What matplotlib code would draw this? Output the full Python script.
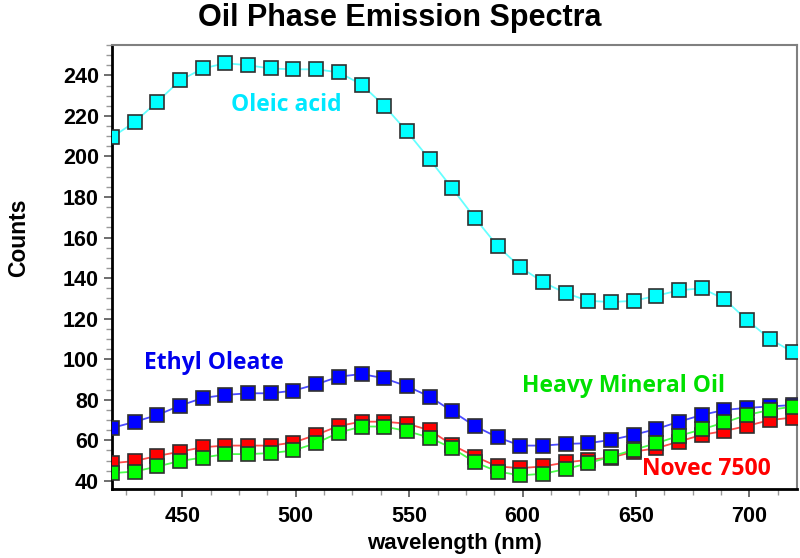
import matplotlib
matplotlib.use("Agg")
import matplotlib.pyplot as plt
from matplotlib.ticker import MultipleLocator

# wavelength samples (nm)
wavelength = [419, 429, 439, 449, 459, 469, 479, 489, 499, 509,
              519, 529, 539, 549, 559, 569, 579, 589, 599, 609,
              619, 629, 639, 649, 659, 669, 679, 689, 699, 709, 719]

oleic_acid = [209.5, 217, 227, 237.5, 243.4, 246, 245, 243.4, 243, 243,
              241.5, 235.5, 225, 212.4, 198.6, 184.3, 169.6, 155.8, 145.4, 138,
              132.6, 128.8, 128.2, 128.8, 131.3, 134, 135, 129.6, 119.3, 110, 103.6]

ethyl_oleate = [66.1, 69.1, 72.5, 77.1, 80.9, 82.4, 83.2, 83.2, 84.5, 87.6,
                91.4, 92.7, 90.6, 86.7, 81.6, 74.3, 67, 61.5, 57.4, 57.4,
                58.2, 58.6, 60.2, 62.7, 65.6, 69.2, 72.5, 75, 76, 76.7, 77.4]

novec_7500 = [48.7, 49.8, 52.3, 54.4, 56.6, 57.4, 57.4, 57.4, 58.9, 62.7,
              67.1, 69.2, 69.2, 68.2, 65, 57.7, 52, 47.1, 46.3, 47.1,
              49.1, 50.4, 51.5, 54.4, 56.1, 59.4, 62.7, 64.6, 67.1, 70, 71.2]

heavy_mineral_oil = [43.8, 44.6, 47.1, 49.8, 51.5, 53.2, 53.2, 53.7, 55, 58.6,
                     63.8, 66.8, 66.8, 64.6, 61.3, 56.1, 49.2, 44.6, 42.7, 43.5,
                     45.8, 48.7, 52, 55.3, 58.6, 62.2, 65.4, 68.8, 72.5, 75, 76.6]

series = [
    # data, line colour, marker colour, zorder
    (novec_7500, "#ff4a4a", "#ff0000", 3),
    (ethyl_oleate, "#4a4aff", "#0000ff", 4),
    (heavy_mineral_oil, "#4aff4a", "#00ff00", 5),
    (oleic_acid, "#66ffff", "#00ffff", 6),
]

labels = [
    ("Oleic acid", 496, 225.5, "#00e8ff"),
    ("Ethyl Oleate", 464, 98, "#0000ee"),
    ("Heavy Mineral Oil", 644.5, 86.8, "#00e000"),
    ("Novec 7500", 681, 46, "#ff0000"),
]

plt.rcParams["font.family"] = ["Liberation Sans", "DejaVu Sans"]

fig = plt.figure(figsize=(8, 5.58), dpi=100)
ax = fig.add_axes([0.14, 0.1237, 0.8563, 0.7957])

for vals, lc, mc, z in series:
    ax.plot(wavelength, vals, color=lc, lw=1.3, zorder=z,
            marker="s", markersize=10, markerfacecolor=mc,
            markeredgecolor="#303030", markeredgewidth=1.2)

for text, x, y, c in labels:
    ax.text(x, y, text, color=c, fontsize=16.5, fontweight="bold",
            family=["Open Sans", "DejaVu Sans"], ha="center", va="center",
            zorder=8)

ax.set_xlim(419, 721)
ax.set_ylim(36, 255)
ax.xaxis.set_major_locator(MultipleLocator(50))
ax.xaxis.set_minor_locator(MultipleLocator(12.5))
ax.yaxis.set_major_locator(MultipleLocator(20))
ax.yaxis.set_minor_locator(MultipleLocator(5))
ax.tick_params(which="major", length=6, width=1.2, color="#555555",
               labelsize=15.5)
ax.tick_params(axis="x", which="major", pad=6)
ax.tick_params(which="minor", length=4, width=1, color="#999999")
for lab in ax.get_xticklabels() + ax.get_yticklabels():
    lab.set_fontweight("bold")

ax.spines["left"].set_linewidth(2)
ax.spines["bottom"].set_linewidth(2)
ax.spines["left"].set_color("black")
ax.spines["bottom"].set_color("black")
ax.spines["top"].set_color("#808080")
ax.spines["right"].set_color("#808080")
ax.spines["top"].set_linewidth(1.5)
ax.spines["right"].set_linewidth(1.5)

ax.set_xlabel("wavelength (nm)", fontsize=16, fontweight="bold")
ax.set_ylabel("Counts", fontsize=16.5, fontweight="bold")
ax.xaxis.set_label_coords(0.5, -0.1)
ax.yaxis.set_label_coords(-0.12, 0.565)
fig.suptitle("Oil Phase Emission Spectra", fontsize=22, fontweight="bold",
             x=0.5, y=0.995)

fig.savefig("out.png", dpi=100)
